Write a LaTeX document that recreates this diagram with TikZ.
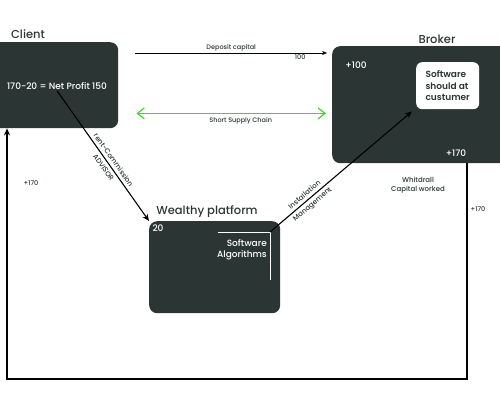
\documentclass[tikz,border=0pt]{standalone}
\usepackage{fontspec}
\setmainfont{Poppins}[UprightFont=* Medium, BoldFont=* SemiBold]
\usetikzlibrary{arrows.meta,calc}
\definecolor{boxdark}{HTML}{2B3634}
\definecolor{chaingreen}{HTML}{44D62C}
\begin{document}
\begin{tikzpicture}[x=1pt,y=-1pt]
\tikzstyle{darkbox} = [fill=boxdark, rounded corners=8pt, inner sep=0pt, anchor=north west] % тёмный блок
\tikzstyle{title} = [font=\fontsize{11.5}{13}\selectfont, text=boxdark] % заголовок над блоком
\tikzstyle{intext} = [font=\fontsize{9}{11}\selectfont, text=white, inner sep=1pt] % текст в блоке
\tikzstyle{small} = [font=\fontsize{6.5}{8.5}\selectfont, text=boxdark, inner sep=1.5pt] % подписи стрелок
\tikzstyle{slope} = [font=\fontsize{7}{9}\selectfont, text=boxdark, inner sep=1pt, sloped] % наклонные подписи
\tikzstyle{flow} = [line width=1.1pt, -{Stealth[length=7pt,width=6pt]}] % толстая стрелка
\clip (0,0) rectangle (500,400);
\useasboundingbox (0,0) rectangle (500,400);

% блоки
\node[darkbox, minimum width=138, minimum height=86] (client) at (-20,42) {};
\node[darkbox, minimum width=190, minimum height=117] (broker) at (332,46) {};
\node[darkbox, minimum width=131, minimum height=92] (platform) at (149,221) {};
\node[darkbox, fill=white, rounded corners=6pt, minimum width=63, minimum height=47] (soft) at (416,62) {};

% заголовки
\node[title] (clienttitle) at (28,34) {Client};
\node[title] (brokertitle) at (437,39) {Broker};
\node[title] (platformtitle) at (207,212) {Wealthy platform};

% тексты внутри
\node[intext] (profit) at (57,86) {170-20 = Net Profit 150};
\node[intext] (plus100) at (356,65) {+100};
\node[intext] (plus170) at (456,153) {+170};
\node[intext] (twenty) at (158,228) {20};
\node[intext, align=right, anchor=east] (algo) at (268,250) {Software\\Algorithms};
\node[intext, text=boxdark, font=\bfseries\fontsize{9}{11.5}\selectfont, align=left] (softtext) at (soft.center) {Software\\should at\\custumer};
\coordinate (corner) at (270,232);
\draw[white, line width=0.5pt] (218,232) -- (corner) -- (270,280);

% стрелки
\draw[line width=0.5pt, -{Stealth[length=5pt,width=4pt]}] ($(client.north east)+(17,11)$) -- ($(broker.north west)+(-5,7)$)
    node[small, midway, above] {Deposit capital}
    node[small, pos=0.86, below] {100};
\draw[chaingreen, line width=1.2pt, {Straight Barb[length=7pt,width=11pt]}-{Straight Barb[length=7pt,width=11pt]}] ($(client.south east)+(18,-15)$) -- ($(broker.south west)+(-6,-50)$)
    node[small, pos=0.55, below=1.5pt] {Short Supply Chain};
\draw[flow] (profit.south) -- (platform.north west)
    node[slope, pos=0.56, above=2pt] {rent-Commission}
    node[slope, pos=0.56, below=2pt] {ADVISOR};
\draw[flow] (corner) -- ($(soft.south west)+(-4,2)$)
    node[slope, pos=0.27, above=2pt] {Installation}
    node[slope, pos=0.27, below=2pt] {Management};

% возврат капитала
\coordinate (ret) at (467,379);
\coordinate (retl) at (7,379);
\draw[flow] (broker.south -| ret) -- (ret) -- (retl) -- (retl |- client.south);
\node[small, font=\fontsize{7}{9}\selectfont, align=center] (withdraw) at (418,185) {Whitdrall\\Capital worked};
\node[small] (ret170) at (478,209) {+170};
\node[small] (left170) at (31,183) {+170};
\end{tikzpicture}
\end{document}
